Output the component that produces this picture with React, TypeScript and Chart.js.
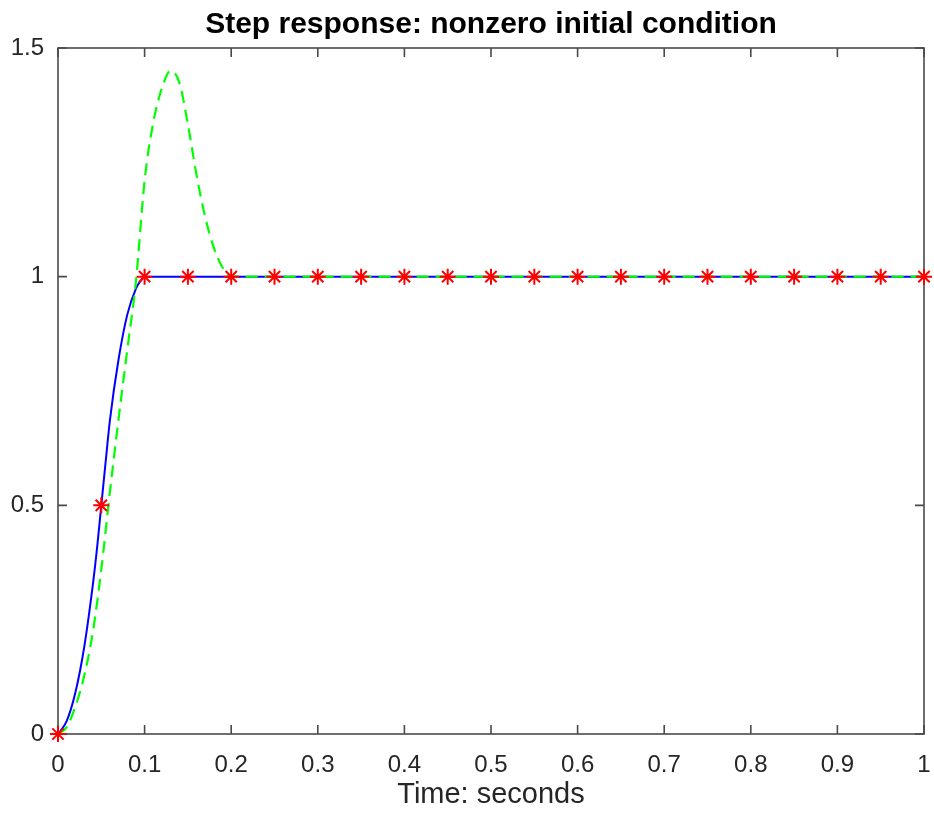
import React, { useEffect, useRef } from 'react';
import { Chart, registerables } from 'chart.js';

Chart.register(...registerables);

const titleText = 'Step response: nonzero initial condition';
const xAxisLabel = 'Time: seconds';

const xTicks = [0, 0.1, 0.2, 0.3, 0.4, 0.5, 0.6, 0.7, 0.8, 0.9, 1];
const xTickLabels = ['0', '0.1', '0.2', '0.3', '0.4', '0.5', '0.6', '0.7', '0.8', '0.9', '1'];
const yTicks = [0, 0.5, 1, 1.5];
const yTickLabels = ['0', '0.5', '1', '1.5'];

// Blue solid response
const blueT = [0, 0.01, 0.02, 0.03, 0.04, 0.045, 0.05, 0.055, 0.06, 0.07, 0.08, 0.09, 0.095, 0.1, 1];
const blueY = [0, 0.028, 0.09, 0.187, 0.323, 0.405, 0.5, 0.595, 0.687, 0.82, 0.917, 0.974, 0.99, 1.0, 1.0];

// Green dashed response (overshoot)
const greenT = [0, 0.01, 0.02, 0.03, 0.04, 0.05, 0.06, 0.07, 0.08, 0.09, 0.1, 0.11, 0.12, 0.13, 0.14, 0.15, 0.16, 0.17, 0.18, 0.19, 0.2, 1];
const greenY = [0, 0.015, 0.06, 0.125, 0.22, 0.36, 0.53, 0.69, 0.84, 0.99, 1.21, 1.337, 1.412, 1.45, 1.425, 1.333, 1.222, 1.13, 1.063, 1.02, 1.0, 1.0];

// Red star samples
const starT = [0, 0.05, 0.1, 0.15, 0.2, 0.25, 0.3, 0.35, 0.4, 0.45, 0.5, 0.55, 0.6, 0.65, 0.7, 0.75, 0.8, 0.85, 0.9, 0.95, 1];
const starY = [0, 0.5, 1, 1, 1, 1, 1, 1, 1, 1, 1, 1, 1, 1, 1, 1, 1, 1, 1, 1, 1];

const FONT = '"Liberation Sans", Arial, Helvetica, sans-serif';
const AXIS_COLOR = '#4a4a4a';
const TEXT_COLOR = '#262626';

const framePlugin = {
  id: 'framePlugin',
  beforeDatasetsDraw(chart: any) {
    const { ctx, chartArea } = chart;
    const { left, right, top, bottom } = chartArea;
    const xs = chart.scales.x;
    const ys = chart.scales.y;
    const tl = 9;
    ctx.save();
    ctx.strokeStyle = AXIS_COLOR;
    ctx.lineWidth = 1.6;
    ctx.strokeRect(left, top, right - left, bottom - top);
    ctx.beginPath();
    xTicks.forEach((v) => {
      const px = xs.getPixelForValue(v);
      ctx.moveTo(px, bottom);
      ctx.lineTo(px, bottom - tl);
      ctx.moveTo(px, top);
      ctx.lineTo(px, top + tl);
    });
    yTicks.forEach((v) => {
      const py = ys.getPixelForValue(v);
      ctx.moveTo(left, py);
      ctx.lineTo(left + tl, py);
      ctx.moveTo(right, py);
      ctx.lineTo(right - tl, py);
    });
    ctx.stroke();
    ctx.restore();
  },
  afterDraw(chart: any) {
    const { ctx, chartArea } = chart;
    ctx.save();
    ctx.fillStyle = '#000000';
    ctx.font = `bold 30px ${FONT}`;
    ctx.textAlign = 'center';
    ctx.textBaseline = 'alphabetic';
    ctx.fillText(titleText, (chartArea.left + chartArea.right) / 2, 33);
    ctx.restore();
  },
};

export default function App() {
  const ref = useRef<HTMLCanvasElement | null>(null);

  useEffect(() => {
    if (!ref.current) return;
    const chart = new Chart(ref.current, {
      type: 'line',
      data: {
        datasets: [
          {
            label: 'samples',
            data: starT.map((t, i) => ({ x: t, y: starY[i] })),
            showLine: false,
            pointStyle: 'star',
            pointRadius: 8,
            pointBorderWidth: 2,
            pointBorderColor: '#ff0000',
            pointBackgroundColor: '#ff0000',
            borderColor: '#ff0000',
            clip: false as any,
          },
          {
            label: 'overshoot',
            data: greenT.map((t, i) => ({ x: t, y: greenY[i] })),
            borderColor: '#00ff00',
            borderWidth: 2.2,
            borderDash: [12, 7],
            pointRadius: 0,
            cubicInterpolationMode: 'monotone',
            fill: false,
          },
          {
            label: 'response',
            data: blueT.map((t, i) => ({ x: t, y: blueY[i] })),
            borderColor: '#0000ff',
            borderWidth: 2,
            pointRadius: 0,
            cubicInterpolationMode: 'monotone',
            fill: false,
          },
        ],
      },
      options: {
        responsive: false,
        animation: false,
        devicePixelRatio: 1,
        layout: { padding: { left: 0, right: 9, top: 48, bottom: 0 } },
        plugins: {
          legend: { display: false },
          tooltip: { enabled: false },
          title: { display: false },
        },
        scales: {
          x: {
            type: 'linear',
            min: 0,
            max: 1,
            grid: { display: true, drawOnChartArea: false, drawTicks: false },
            border: { display: false },
            afterBuildTicks: (s: any) => {
              s.ticks = xTicks.map((v) => ({ value: v }));
            },
            afterFit: (s: any) => {
              s.height = 84;
              s.paddingLeft = 0;
              s.paddingRight = 0;
            },
            ticks: {
              padding: 17,
              maxRotation: 0,
              autoSkip: false,
              color: TEXT_COLOR,
              font: { family: FONT, size: 24 },
              callback: (v: any) => {
                const i = xTicks.findIndex((t) => Math.abs(t - Number(v)) < 1e-9);
                return i >= 0 ? xTickLabels[i] : '';
              },
            },
            title: {
              display: true,
              text: xAxisLabel,
              color: TEXT_COLOR,
              font: { family: FONT, size: 29 },
              padding: { top: 0, bottom: 6 },
            },
          },
          y: {
            type: 'linear',
            min: 0,
            max: 1.5,
            grid: { display: true, drawOnChartArea: false, drawTicks: false },
            border: { display: false },
            afterBuildTicks: (s: any) => {
              s.ticks = yTicks.map((v) => ({ value: v }));
            },
            afterFit: (s: any) => {
              s.width = 58;
              s.paddingTop = 0;
              s.paddingBottom = 0;
            },
            ticks: {
              padding: 14,
              autoSkip: false,
              color: TEXT_COLOR,
              font: { family: FONT, size: 24 },
              callback: (v: any) => {
                const i = yTicks.findIndex((t) => Math.abs(t - Number(v)) < 1e-9);
                return i >= 0 ? yTickLabels[i] : '';
              },
            },
          },
        },
      },
      plugins: [framePlugin],
    });
    return () => chart.destroy();
  }, []);

  return (
    <div style={{ position: 'fixed', left: 0, top: 0, width: 934, height: 818, background: '#ffffff' }}>
      <canvas ref={ref} width={934} height={818} style={{ display: 'block' }} />
    </div>
  );
}
